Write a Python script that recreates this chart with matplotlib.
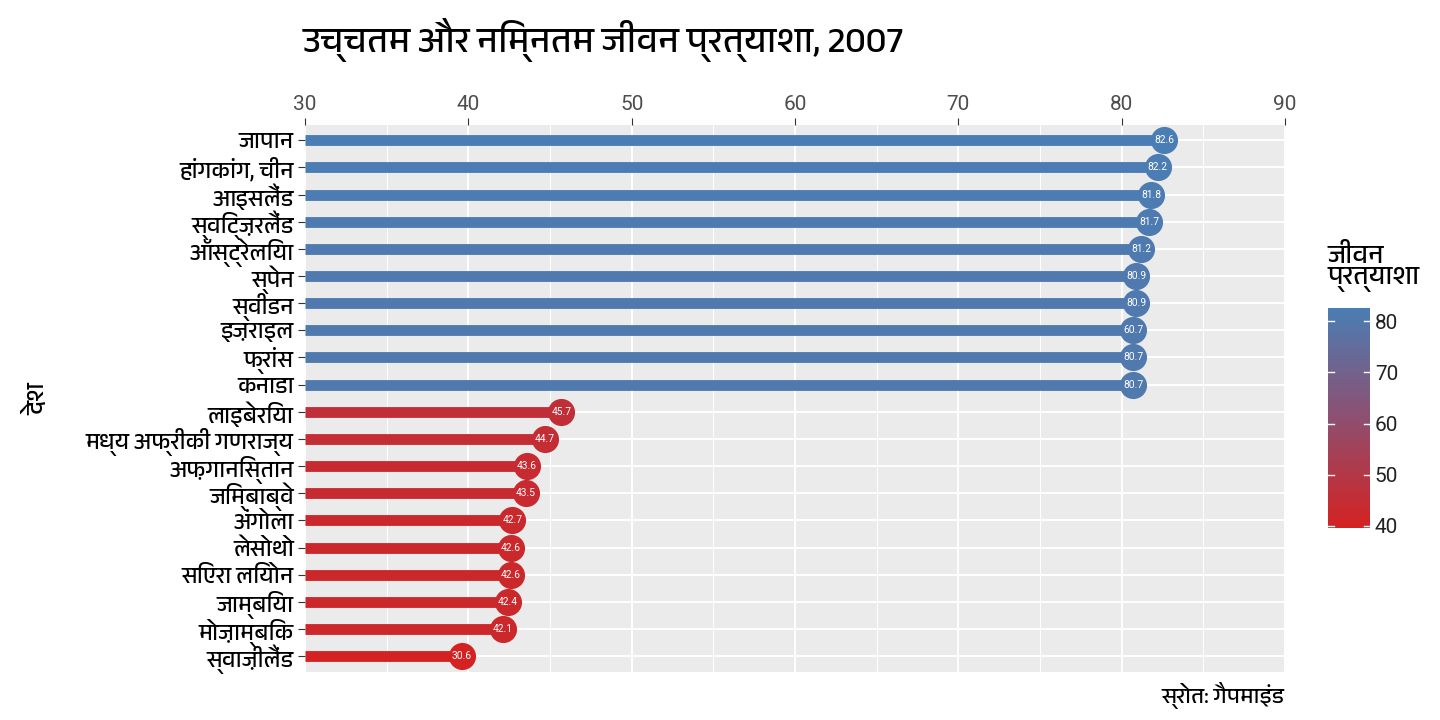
import numpy as np
import matplotlib
matplotlib.use("Agg")
import matplotlib.pyplot as plt
from matplotlib import font_manager
from matplotlib.colors import LinearSegmentedColormap, Normalize
from matplotlib.cm import ScalarMappable

# pick a font with Devanagari glyphs if one is installed
deva = [f.name for f in font_manager.fontManager.ttflist
        if "devanagari" in f.name.lower() or "lohit" in f.name.lower()
        or "mukta" in f.name.lower() or "hind" in f.name.lower()]
fams = []
if deva:
    fams.append(deva[0])
fams += ["Noto Sans", "DejaVu Sans"]
plt.rcParams["font.family"] = fams
num_font = ["Roboto", "DejaVu Sans"]

countries = ["जापान", "हांगकांग, चीन", "आइसलैंड", "स्विट्ज़रलैंड", "ऑस्ट्रेलिया",
             "स्पेन", "स्वीडन", "इज़राइल", "फ्रांस", "कनाडा",
             "लाइबेरिया", "मध्य अफ्रीकी गणराज्य", "अफ़गानिस्तान", "जिम्बाब्वे", "अंगोला",
             "लेसोथो", "सिएरा लियोन", "जाम्बिया", "मोज़ाम्बिक", "स्वाज़ीलैंड"]
life_exp = [82.6, 82.2, 81.8, 81.7, 81.2, 80.9, 80.9, 80.7, 80.7, 80.7,
            45.7, 44.7, 43.6, 43.5, 42.7, 42.6, 42.6, 42.4, 42.1, 39.6]
# value labels as printed on the points
value_labels = ["82.6", "82.2", "81.8", "81.7", "81.2", "80.9", "80.9", "60.7", "80.7", "80.7",
                "45.7", "44.7", "43.6", "43.5", "42.7", "42.6", "42.6", "42.4", "42.1", "30.6"]

cmap = LinearSegmentedColormap.from_list("le", ["#d42222", "#8e4f70", "#4a7db4"])
norm = Normalize(vmin=min(life_exp), vmax=max(life_exp))

fig = plt.figure(figsize=(14.4, 7.2), dpi=100)
ax = fig.add_axes([0.2118, 0.0667, 0.6806, 0.7597])
ax.set_facecolor("#ebebeb")

ypos = np.arange(len(countries))
for y, v, lab in zip(ypos, life_exp, value_labels):
    c = cmap(norm(v))
    ax.plot([30, v], [y, y], color=c, lw=7.8, solid_capstyle="butt", zorder=3)
    ax.plot(v, y, "o", color=c, ms=18.5, zorder=4)
    ax.text(v, y, lab, color="white", fontsize=7.4, ha="center", va="center",
            zorder=5, family=num_font)

ax.set_xlim(30, 90)
ax.set_ylim(len(countries) - 1 + 0.58, -0.56)
ax.set_xticks([30, 40, 50, 60, 70, 80, 90])
ax.set_xticks([35, 45, 55, 65, 75, 85], minor=True)
ax.set_yticks(ypos)
ax.set_yticklabels(countries)
ax.xaxis.tick_top()
ax.tick_params(axis="x", which="major", labelsize=15, length=5, color="#333333",
               labelcolor="#4d4d4d", pad=3)
for t in ax.get_xticklabels():
    t.set_family(num_font)
ax.tick_params(axis="x", which="minor", length=0)
ax.tick_params(axis="y", labelsize=16.5, length=5, color="#333333", labelcolor="black", pad=3)
ax.grid(True, which="major", color="white", lw=1.4, zorder=0)
ax.grid(True, which="minor", axis="x", color="white", lw=0.7, zorder=0)
ax.set_axisbelow(True)
for s in ax.spines.values():
    s.set_visible(False)

ax.set_ylabel("देश", fontsize=18)
ax.yaxis.set_label_coords(-0.262, 0.5)

fig.text(0.21, 0.975, "उच्चतम और निम्नतम जीवन प्रत्याशा, 2007", fontsize=26, va="top")
fig.text(0.892, 0.015, "स्रोत: गैपमाइंड", fontsize=16, ha="right", va="bottom")

cax = fig.add_axes([0.9222, 0.2667, 0.0292, 0.3056])
sm = ScalarMappable(norm=norm, cmap=cmap)
cb = fig.colorbar(sm, cax=cax, ticks=[40, 50, 60, 70, 80])
cb.outline.set_visible(False)
cb.ax.tick_params(labelsize=15, length=0, labelcolor="#222222")
for t in cb.ax.get_yticklabels():
    t.set_family(num_font)
for t in [40, 50, 60, 70, 80]:
    cax.plot([0, 0.15], [t, t], color="white", lw=1, transform=cax.get_yaxis_transform())
    cax.plot([0.85, 1], [t, t], color="white", lw=1, transform=cax.get_yaxis_transform())
fig.text(0.9222, 0.595, "जीवन\nप्रत्याशा", fontsize=19, va="bottom", ha="left",
         linespacing=1.0)

fig.savefig("out.png", dpi=100)
